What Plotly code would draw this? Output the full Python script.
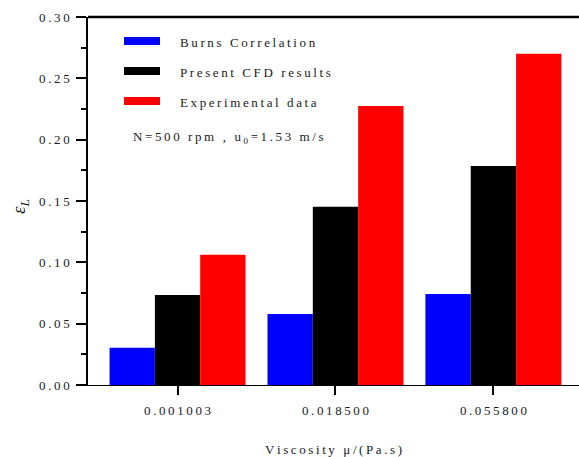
import re
import plotly.graph_objects as go

# Liquid hold-up vs. viscosity at N = 500 rpm
viscosity = ["0.001003", "0.018500", "0.055800"]
series_names = ["Burns Correlation", "Present CFD results", "Experimental data"]
burns = [0.0304, 0.0579, 0.0742]
cfd = [0.0734, 0.1453, 0.1785]
experiment = [0.1062, 0.2274, 0.2700]
series_values = [burns, cfd, experiment]
series_colors = ["#0000ff", "#000000", "#ff0000"]
y_ticks = [0.00, 0.05, 0.10, 0.15, 0.20, 0.25, 0.30]

FONT = "Liberation Serif, Times New Roman, serif"
TXT = "#1a1a1a"
TS = "\u2009"  # thin space used for the widely tracked lettering


def spaced(s):
    """Insert thin spaces between visible characters, leaving tags intact."""
    parts = re.split(r"(<[^>]+>)", s)
    return "".join(p if p.startswith("<") else TS.join(p) for p in parts)


fig = go.Figure()
for name, vals, col in zip(series_names, series_values, series_colors):
    fig.add_trace(go.Bar(x=viscosity, y=vals, name=name,
                         marker=dict(color=col, line=dict(width=0)), showlegend=False))

# plot area in pixels: x 88..579, y 17..385
L, T, W, H = 88, 17, 579, 457
R_PX, B_PX = 579, 385
pw, ph = R_PX - L, B_PX - T


def px(x):
    return (x - L) / pw


def py(y):
    return (B_PX - y) / ph


shapes = []
annotations = []
# top frame line
shapes.append(dict(type="line", xref="paper", yref="paper", x0=0, x1=1, y0=1, y1=1,
                   line=dict(color="black", width=2.5)))
# legend swatches and labels
for i, (name, col) in enumerate(zip(series_names, series_colors)):
    yc = 41 + 30 * i
    shapes.append(dict(type="rect", xref="paper", yref="paper", x0=px(124), x1=px(160),
                       y0=py(yc + 4), y1=py(yc - 4), fillcolor=col, line=dict(width=0)))
    annotations.append(dict(xref="paper", yref="paper", x=px(178), y=py(yc + 1.5), xanchor="left",
                            yanchor="middle", text=spaced(name), showarrow=False,
                            font=dict(family=FONT, size=13, color=TXT)))
annotations.append(dict(xref="paper", yref="paper", x=px(131), y=py(137), xanchor="left",
                        yanchor="middle",
                        text=spaced("N=500 rpm , u") + TS + "<sub>0</sub>" + TS + spaced("=1.53 m/s"),
                        showarrow=False, font=dict(family=FONT, size=13, color=TXT)))
# y-axis title
annotations.append(dict(xref="paper", yref="paper", x=px(20), y=py(207), xanchor="center",
                        yanchor="middle", textangle=-90, showarrow=False,
                        text="<i>ε<sub>L</sub></i>", font=dict(family=FONT, size=19, color=TXT)))

fig.update_layout(
    width=W, height=H,
    margin=dict(l=L, r=W - R_PX, t=T, b=H - B_PX, pad=0),
    paper_bgcolor="white", plot_bgcolor="white",
    barmode="group", bargap=0.139, bargroupgap=0,
    font=dict(family=FONT, size=13, color=TXT),
    shapes=shapes, annotations=annotations,
    xaxis=dict(
        type="category", range=[-0.567, 2.542],
        tickmode="array", tickvals=viscosity, ticktext=[spaced(v) for v in viscosity],
        ticks="outside", ticklen=9, tickwidth=1.5, tickcolor="black",
        showline=True, linecolor="black", linewidth=1, showgrid=False, zeroline=False,
        tickfont=dict(family=FONT, size=13, color=TXT), ticklabelstandoff=4,
        title=dict(text=spaced("Viscosity μ/(Pa.s)"), standoff=29,
                   font=dict(family=FONT, size=13, color=TXT)),
    ),
    yaxis=dict(
        range=[0, 0.30], tickmode="array", tickvals=y_ticks,
        ticktext=[spaced(f"{v:.2f}") for v in y_ticks],
        ticks="outside", ticklen=10, tickwidth=1.5, tickcolor="black",
        minor=dict(ticks="outside", ticklen=5, tickwidth=1.5, tickcolor="black", dtick=0.025),
        showline=True, linecolor="black", linewidth=1.5, showgrid=False, zeroline=False,
        tickfont=dict(family=FONT, size=13, color=TXT), ticklabelstandoff=4,
    ),
)

fig.write_html("out.html")
